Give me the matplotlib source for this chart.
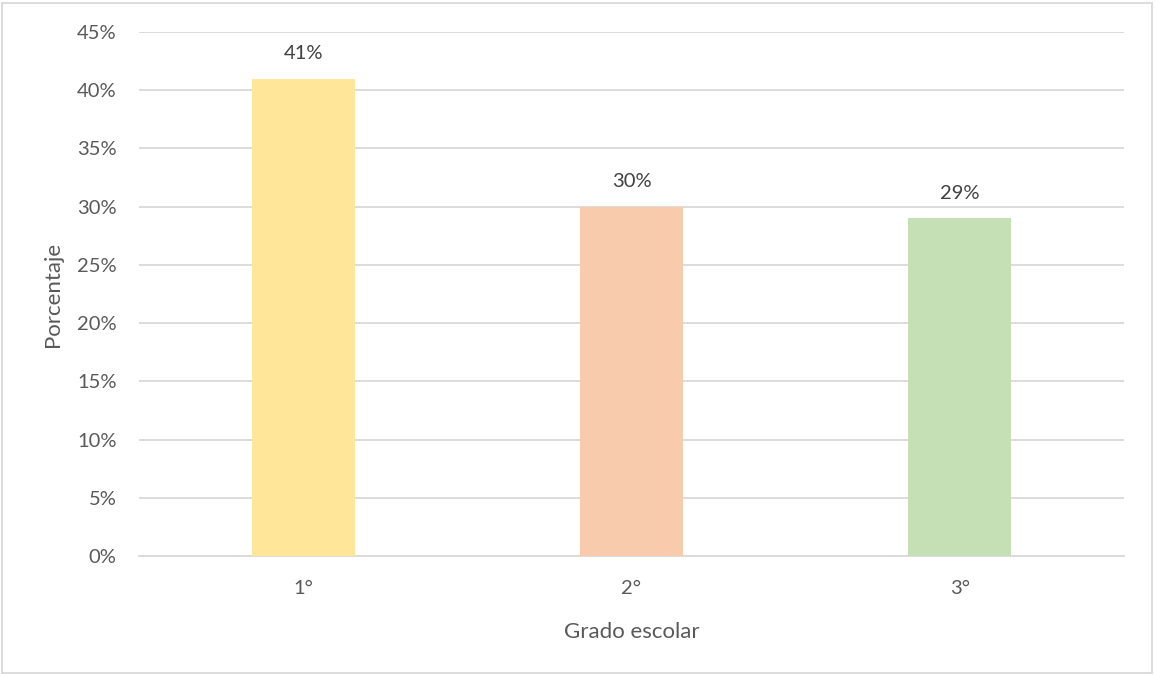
import matplotlib
matplotlib.use("Agg")
import matplotlib.pyplot as plt
from matplotlib.patches import Rectangle
from matplotlib.ticker import FuncFormatter, MultipleLocator

plt.rcParams['font.family'] = ['Lato', 'DejaVu Sans']

# Porcentaje de alumnos por grado escolar
grados = ['1°', '2°', '3°']
porcentajes = [41, 30, 29]
colores = ['#FFE699', '#F8CBAD', '#C5E0B4']

fig = plt.figure(figsize=(11.55, 6.75), dpi=100)
ax = fig.add_axes([0.1203, 0.1763, 0.8528, 0.7763])

x = range(len(grados))
bars = ax.bar(x, porcentajes, width=0.314, color=colores, zorder=3)

for b, v in zip(bars, porcentajes):
    ax.text(b.get_x() + b.get_width() / 2, v + 1.4, f'{v}%',
            ha='center', va='bottom', fontsize=14.5, color='#404040')

ax.set_xlim(-0.5, len(grados) - 0.5)
ax.set_ylim(0, 45)
ax.yaxis.set_major_locator(MultipleLocator(5))
ax.yaxis.set_major_formatter(FuncFormatter(lambda v, p: f'{v:.0f}%'))
ax.set_xticks(list(x))
ax.set_xticklabels(grados)

ax.grid(axis='y', color='#D9D9D9', linewidth=1.3, zorder=0)
for s in ['top', 'right', 'left']:
    ax.spines[s].set_visible(False)
ax.spines['bottom'].set_color('#D9D9D9')
ax.spines['bottom'].set_linewidth(1.3)
ax.tick_params(axis='both', length=0, labelsize=14.5, labelcolor='#595959')
ax.tick_params(axis='y', pad=16)
ax.tick_params(axis='x', pad=17)

ax.set_xlabel('Grado escolar', fontsize=16, color='#595959', labelpad=18)
ax.set_ylabel('Porcentaje', fontsize=16, color='#595959', labelpad=10)

# marco exterior del gráfico
fig.patches.append(Rectangle((0.002, 0.003), 0.995, 0.993, transform=fig.transFigure,
                             fill=False, edgecolor='#D9D9D9', linewidth=1.3))

fig.savefig('out.png', dpi=100)
